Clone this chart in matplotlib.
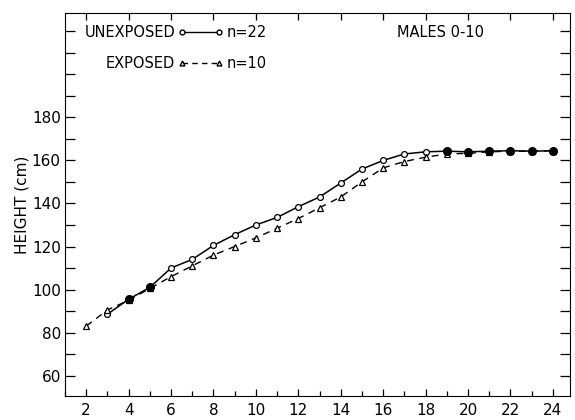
import matplotlib
matplotlib.use('Agg')
import matplotlib.pyplot as plt
from matplotlib.ticker import MultipleLocator

# heights (cm) by age (years)
ages_unexposed = list(range(3, 25))
height_unexposed = [88.5, 95.5, 101, 110, 114, 120.5, 125.5, 130, 133.5, 138.5,
                    143, 149.5, 156, 160, 163, 164, 164.3, 164, 164.3, 164.5,
                    164.3, 164.5]
ages_exposed = list(range(2, 25))
height_exposed = [83, 90.5, 95, 100.5, 106, 111, 116, 120, 124, 128.5, 133,
                  138, 143, 150, 156.5, 159.5, 161.5, 163, 163.3, 164, 164.3,
                  164.3, 164.5]
# ages where both groups fall on the same point (drawn filled)
ages_coincident = [4, 5, 19, 20, 21, 22, 23, 24]

y_ticks = list(range(60, 230, 10))
y_labels = [str(v) if v <= 180 and v % 20 == 0 else '' for v in y_ticks]
x_ticks = list(range(2, 25, 2))

fig = plt.figure(figsize=(5.75, 4.2), dpi=100)
ax = fig.add_axes([0.113, 0.057, 0.878, 0.912])

ax.plot(ages_unexposed, height_unexposed, '-', color='black', lw=1.1,
        marker='o', ms=4.2, mfc='white', mec='black', mew=0.9)
ax.plot(ages_exposed, height_exposed, '--', color='black', lw=1.0,
        dashes=(5, 4), marker='^', ms=4.8, mfc='white', mec='black', mew=0.9)
coincident_heights = [height_unexposed[ages_unexposed.index(a)]
                      for a in ages_coincident]
ax.plot(ages_coincident, coincident_heights, 'o', color='black', ms=5.5)

ax.set_xlim(1, 24.8)
ax.set_ylim(50.5, 228.5)
ax.set_xticks(x_ticks)
ax.xaxis.set_minor_locator(MultipleLocator(1))
ax.set_yticks(y_ticks)
ax.set_yticklabels(y_labels)
ax.tick_params(axis='both', which='both', direction='in', labelsize=11,
               width=0.9)
ax.tick_params(axis='y', which='major', length=7, right=True, pad=3)
ax.tick_params(axis='x', which='major', length=5, top=True, pad=5)
ax.tick_params(axis='x', which='minor', length=3.5, top=False)
for s in ax.spines.values():
    s.set_linewidth(0.8)

ax.set_ylabel('HEIGHT (cm)', fontsize=11, labelpad=2)

# legend drawn by hand, as in the original
tx = ax.transAxes
ax.text(0.218, 0.950, 'UNEXPOSED', transform=tx, ha='right', va='center',
        fontsize=10.5)
ax.plot([0.232, 0.305], [0.950, 0.950], '-', color='black', lw=1.0,
        marker='o', ms=3.5, mfc='white', mec='black', transform=tx)
ax.text(0.321, 0.950, 'n=22', transform=tx, ha='left', va='center',
        fontsize=10.5)
ax.text(0.218, 0.869, 'EXPOSED', transform=tx, ha='right', va='center',
        fontsize=10.5)
ax.plot([0.232, 0.305], [0.869, 0.869], '--', color='black', lw=1.0,
        dashes=(4, 3), marker='^', ms=3.5, mfc='white', mec='black',
        transform=tx)
ax.text(0.321, 0.869, 'n=10', transform=tx, ha='left', va='center',
        fontsize=10.5)
ax.text(0.657, 0.950, 'MALES 0-10', transform=tx, ha='left', va='center',
        fontsize=10.5)

fig.savefig('out.png', dpi=100)
